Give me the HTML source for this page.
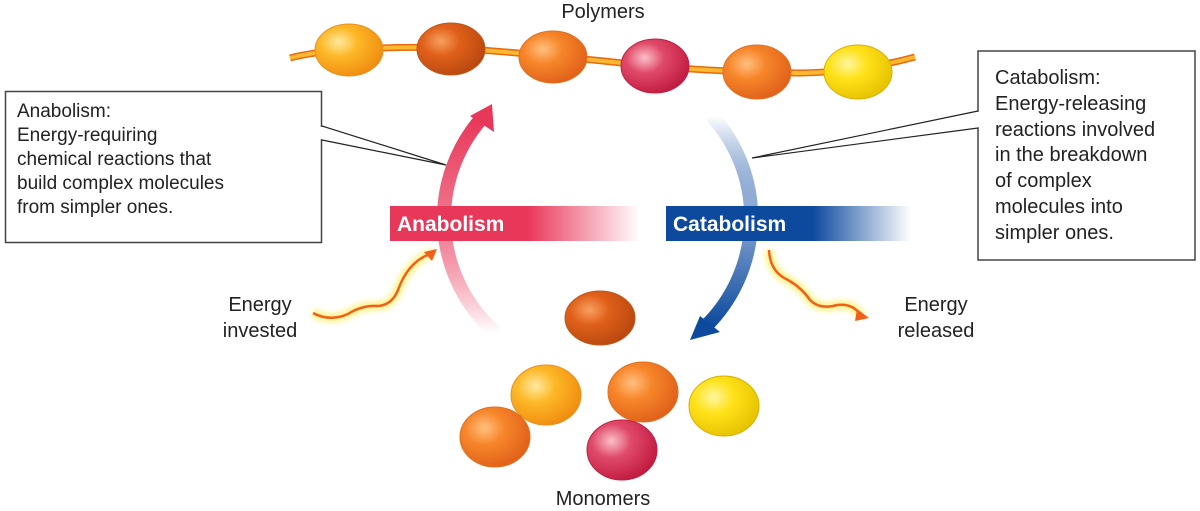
<!DOCTYPE html>
<html><head><meta charset="utf-8"><style>
html,body{margin:0;padding:0;background:#fff;}
svg{display:block;font-family:"Liberation Sans",sans-serif;}
</style></head><body>
<svg width="1200" height="511" viewBox="0 0 1200 511" xmlns="http://www.w3.org/2000/svg">
<defs>
<radialGradient id="gY" cx="0.35" cy="0.35" r="0.7"><stop offset="0" stop-color="#fff6a0"/><stop offset="0.4" stop-color="#ffe21a"/><stop offset="1" stop-color="#e6c200"/></radialGradient>
<radialGradient id="gLO" cx="0.35" cy="0.35" r="0.7"><stop offset="0" stop-color="#ffe9a0"/><stop offset="0.4" stop-color="#fdb827"/><stop offset="1" stop-color="#f08c10"/></radialGradient>
<radialGradient id="gO" cx="0.35" cy="0.35" r="0.7"><stop offset="0" stop-color="#ffc080"/><stop offset="0.4" stop-color="#f7862a"/><stop offset="1" stop-color="#e0601a"/></radialGradient>
<radialGradient id="gD" cx="0.35" cy="0.35" r="0.7"><stop offset="0" stop-color="#f8a060"/><stop offset="0.4" stop-color="#e0601a"/><stop offset="1" stop-color="#b84810"/></radialGradient>
<radialGradient id="gP" cx="0.35" cy="0.35" r="0.7"><stop offset="0" stop-color="#fbc0c8"/><stop offset="0.4" stop-color="#e04a6a"/><stop offset="1" stop-color="#c01a40"/></radialGradient>
<linearGradient id="ana" x1="0" x2="1"><stop offset="0" stop-color="#e8385a"/><stop offset="0.55" stop-color="#e8385a"/><stop offset="1" stop-color="#e8385a" stop-opacity="0"/></linearGradient>
<linearGradient id="cat" x1="0" x2="1"><stop offset="0" stop-color="#0d4a9e"/><stop offset="0.6" stop-color="#0d4a9e"/><stop offset="1" stop-color="#0d4a9e" stop-opacity="0"/></linearGradient>
<linearGradient id="anaArc" x1="0" y1="0" x2="0" y2="1"><stop offset="0" stop-color="#e8385a"/><stop offset="0.5" stop-color="#f07a90"/><stop offset="1" stop-color="#e8385a" stop-opacity="0"/></linearGradient>
<linearGradient id="catArc" x1="0" y1="0" x2="0" y2="1"><stop offset="0" stop-color="#0d4a9e" stop-opacity="0"/><stop offset="0.45" stop-color="#90acd4"/><stop offset="1" stop-color="#0d4a9e"/></linearGradient>
<filter id="glow" x="-20%" y="-20%" width="140%" height="140%"><feGaussianBlur stdDeviation="3"/></filter>
</defs>

<text x="603" y="18" font-size="20" text-anchor="middle" fill="#222">Polymers</text>
<path d="M290 58 Q320 50 380 48 Q430 46 480 50 Q560 56 650 66 Q720 72 800 73 Q860 72 915 57" fill="none" stroke="#e86a10" stroke-width="7"/>
<path d="M290 58 Q320 50 380 48 Q430 46 480 50 Q560 56 650 66 Q720 72 800 73 Q860 72 915 57" fill="none" stroke="#fcb830" stroke-width="4"/>
<ellipse cx="349" cy="50" rx="34" ry="26" fill="url(#gLO)" stroke="#e89020" stroke-width="1"/>
<ellipse cx="451" cy="49" rx="34" ry="26" fill="url(#gD)" stroke="#c05818" stroke-width="1"/>
<ellipse cx="553" cy="57" rx="34" ry="26" fill="url(#gO)" stroke="#e07020" stroke-width="1"/>
<ellipse cx="655" cy="66" rx="34" ry="27" fill="url(#gP)" stroke="#c02040" stroke-width="1"/>
<ellipse cx="757" cy="72" rx="34" ry="27" fill="url(#gO)" stroke="#e07020" stroke-width="1"/>
<ellipse cx="858" cy="72" rx="34" ry="27" fill="url(#gY)" stroke="#d8b000" stroke-width="1"/>

<path d="M496 333 A152 152 0 0 1 482 118" fill="none" stroke="url(#anaArc)" stroke-width="14"/>
<polygon points="492,104 470,116 494,132" fill="#e8385a"/>
<path d="M712 116 A152 152 0 0 1 706 326" fill="none" stroke="url(#catArc)" stroke-width="14"/>
<polygon points="690,340 720,332 700,316" fill="#0d4a9e"/>

<rect x="390" y="206" width="250" height="35" fill="url(#ana)"/>
<text x="397" y="231" font-size="21" font-weight="bold" fill="#fff">Anabolism</text>
<rect x="666" y="206" width="245" height="35" fill="url(#cat)"/>
<text x="673" y="231" font-size="21" font-weight="bold" fill="#fff">Catabolism</text>

<rect x="5.5" y="91.5" width="316" height="151" fill="#fff" stroke="#444" stroke-width="1.5"/>
<g font-size="19" fill="#222">
<text x="17" y="117">Anabolism:</text>
<text x="17" y="141">Energy-requiring</text>
<text x="17" y="165">chemical reactions that</text>
<text x="17" y="189">build complex molecules</text>
<text x="17" y="213">from simpler ones.</text>
</g>
<path d="M322 126 L446 165 L322 140" fill="#fff" stroke="#222" stroke-width="1.2"/>
<line x1="321" y1="127" x2="321" y2="139" stroke="#fff" stroke-width="2"/>

<rect x="978" y="51" width="217" height="209" fill="#fff" stroke="#444" stroke-width="1.5"/>
<g font-size="20" fill="#222">
<text x="995" y="84">Catabolism:</text>
<text x="995" y="110">Energy-releasing</text>
<text x="995" y="136">reactions involved</text>
<text x="995" y="161">in the breakdown</text>
<text x="995" y="187">of complex</text>
<text x="995" y="213">molecules into</text>
<text x="995" y="239">simpler ones.</text>
</g>
<path d="M978 111 L752 158 L978 128" fill="#fff" stroke="#222" stroke-width="1.2"/>
<line x1="979" y1="112" x2="979" y2="127" stroke="#fff" stroke-width="2"/>

<g>
<path d="M313 313 Q330 322 348 314 Q362 305 378 306 Q392 305 398 290 Q408 262 433 252" fill="none" stroke="#fff38a" stroke-width="9" filter="url(#glow)"/>
<path d="M313 313 Q330 322 348 314 Q362 305 378 306 Q392 305 398 290 Q408 262 430 254" fill="none" stroke="#f06018" stroke-width="2.5"/>
<polygon points="437,249 424,252 432,261" fill="#f06018"/>
</g>
<g>
<path d="M769 250 Q770 272 788 280 Q802 288 810 300 Q820 310 837 305 Q852 303 862 316" fill="none" stroke="#fff38a" stroke-width="9" filter="url(#glow)"/>
<path d="M769 250 Q770 272 788 280 Q802 288 810 300 Q820 310 837 305 Q852 303 860 314" fill="none" stroke="#f06018" stroke-width="2.5"/>
<polygon points="869,318 857,309 855,321" fill="#f06018"/>
</g>
<g font-size="20" fill="#222" text-anchor="middle">
<text x="260" y="311">Energy</text>
<text x="260" y="337">invested</text>
<text x="936" y="311">Energy</text>
<text x="936" y="337">released</text>
</g>

<ellipse cx="600" cy="318" rx="35" ry="27" fill="url(#gD)" stroke="#c05818"/>
<ellipse cx="546" cy="395" rx="35" ry="30" fill="url(#gLO)" stroke="#e89020"/>
<ellipse cx="643" cy="392" rx="35" ry="30" fill="url(#gO)" stroke="#e07020"/>
<ellipse cx="724" cy="406" rx="35" ry="30" fill="url(#gY)" stroke="#d8b000"/>
<ellipse cx="495" cy="437" rx="35" ry="30" fill="url(#gO)" stroke="#e07020"/>
<ellipse cx="622" cy="450" rx="35" ry="30" fill="url(#gP)" stroke="#c02040"/>
<text x="603" y="505" font-size="20" text-anchor="middle" fill="#222">Monomers</text>
</svg>
</body></html>
